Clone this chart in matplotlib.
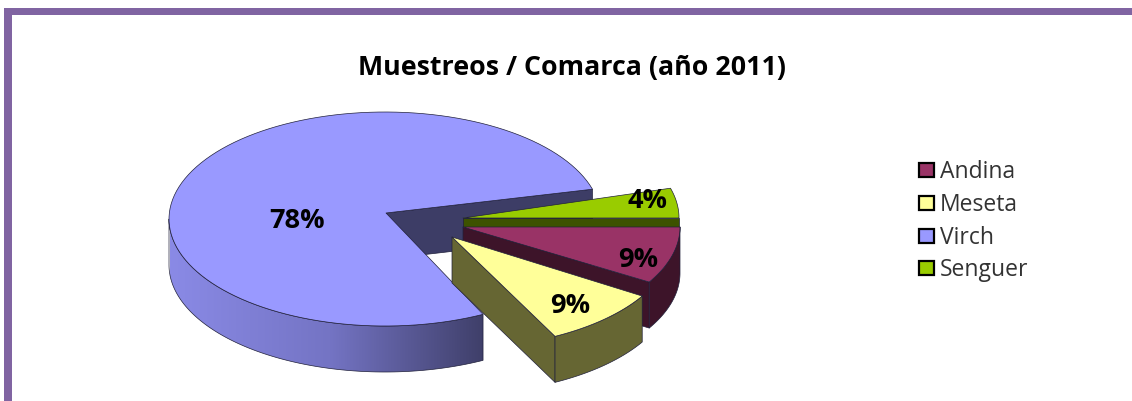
import numpy as np
import matplotlib
matplotlib.use('Agg')
import matplotlib.pyplot as plt
from matplotlib.patches import Polygon, Rectangle
from matplotlib.colors import LinearSegmentedColormap

plt.rcParams['font.family'] = ['Open Sans', 'DejaVu Sans']

# data
title = 'Muestreos / Comarca (año 2011)'
comarcas = ['Andina', 'Meseta', 'Virch', 'Senguer']
shares = [8.6, 8.9, 78.0, 4.49]

# styles, same order as comarcas
top_colors = ['#993366', '#FFFF99', '#9999FF', '#99CC00']
side_colors = ['#3D1429', '#666633', '#3D3D66', '#3D5200']
centers = [(464, 228), (457, 242), (385, 220), (463, 219)]
apexes = [(463, 228), (452, 238), (386, 214), (463, 219)]
label_pos = [(638, 260), (570, 306), (297, 221), (647, 201)]
draw_order = [2, 3, 0, 1]
legend_y = [171, 204, 237, 269]

RX, RY, DEPTH = 216, 107, 46
EDGE = '#20203a'

fig = plt.figure(figsize=(11.32, 4.02), dpi=100)
ax = fig.add_axes([0, 0, 1, 1])

# slice angles, clockwise from 3 o'clock
fracs = np.array(shares) / sum(shares)
ends = -360 * np.cumsum(fracs)
starts = np.concatenate([[0], ends[:-1]])


def rim(i, a, b, n=120):
    t = np.radians(np.linspace(a, b, n))
    cx, cy = centers[i]
    return np.column_stack([cx + RX * np.cos(t), cy - RY * np.sin(t)])


def add_poly(pts, color, z):
    p = Polygon(pts, closed=True, facecolor=color, edgecolor=EDGE, lw=0.5, zorder=z, joinstyle='round')
    ax.add_patch(p)
    return p


def extrude(pts):
    return np.vstack([pts, (pts + [0, DEPTH])[::-1]])


for z, i in enumerate(draw_order):
    base = 10 + z * 10
    a, b = starts[i], ends[i]
    apex = np.array(apexes[i], dtype=float)
    arc = rim(i, a, b)

    # cut face at the clockwise end of the slice
    add_poly(extrude(np.vstack([apex, arc[-1]])), side_colors[i], base)

    if comarcas[i] == 'Virch':
        # shaded outer wall, only the front half shows
        wall = extrude(rim(i, -180, a))
        add_poly(wall, 'none', base + 2)
        cmap = LinearSegmentedColormap.from_list('wall', ['#8A8AE6', '#7474C4', '#3D3D66'])
        grad = np.linspace(0, 1, 256).reshape(1, -1)
        im = ax.imshow(grad, cmap=cmap, extent=(170, 490, 400, 180), aspect='auto', zorder=base + 1)
        im.set_clip_path(Polygon(wall, closed=True, transform=ax.transData))
    elif comarcas[i] != 'Senguer':
        add_poly(extrude(arc), side_colors[i], base + 1)

    add_poly(np.vstack([apex, arc]), top_colors[i], base + 3)
    ax.text(label_pos[i][0], label_pos[i][1], '%.0f%%' % shares[i], ha='center', va='center',
            fontsize=19.5, fontweight='bold', color='black', zorder=100)

# legend
for name, c, y in zip(comarcas, top_colors, legend_y):
    ax.add_patch(Rectangle((919, y - 7), 15, 14, facecolor=c, edgecolor='black', lw=1.6, zorder=100))
    ax.text(940, y + 1, name, ha='left', va='center', fontsize=16.5, color='#333333', zorder=100)

ax.text(572, 68, title, ha='center', va='center', fontsize=19.3, fontweight='bold', color='black')

# purple frame, open on right and bottom
frame = '#8064A2'
ax.add_patch(Rectangle((4, 9), 1132, 7, facecolor=frame, edgecolor='none', zorder=120))
ax.add_patch(Rectangle((4, 9), 7.5, 400, facecolor=frame, edgecolor='none', zorder=120))

ax.set_xlim(0, 1132)
ax.set_ylim(402, 0)
ax.axis('off')

plt.savefig('out.png', dpi=100)
